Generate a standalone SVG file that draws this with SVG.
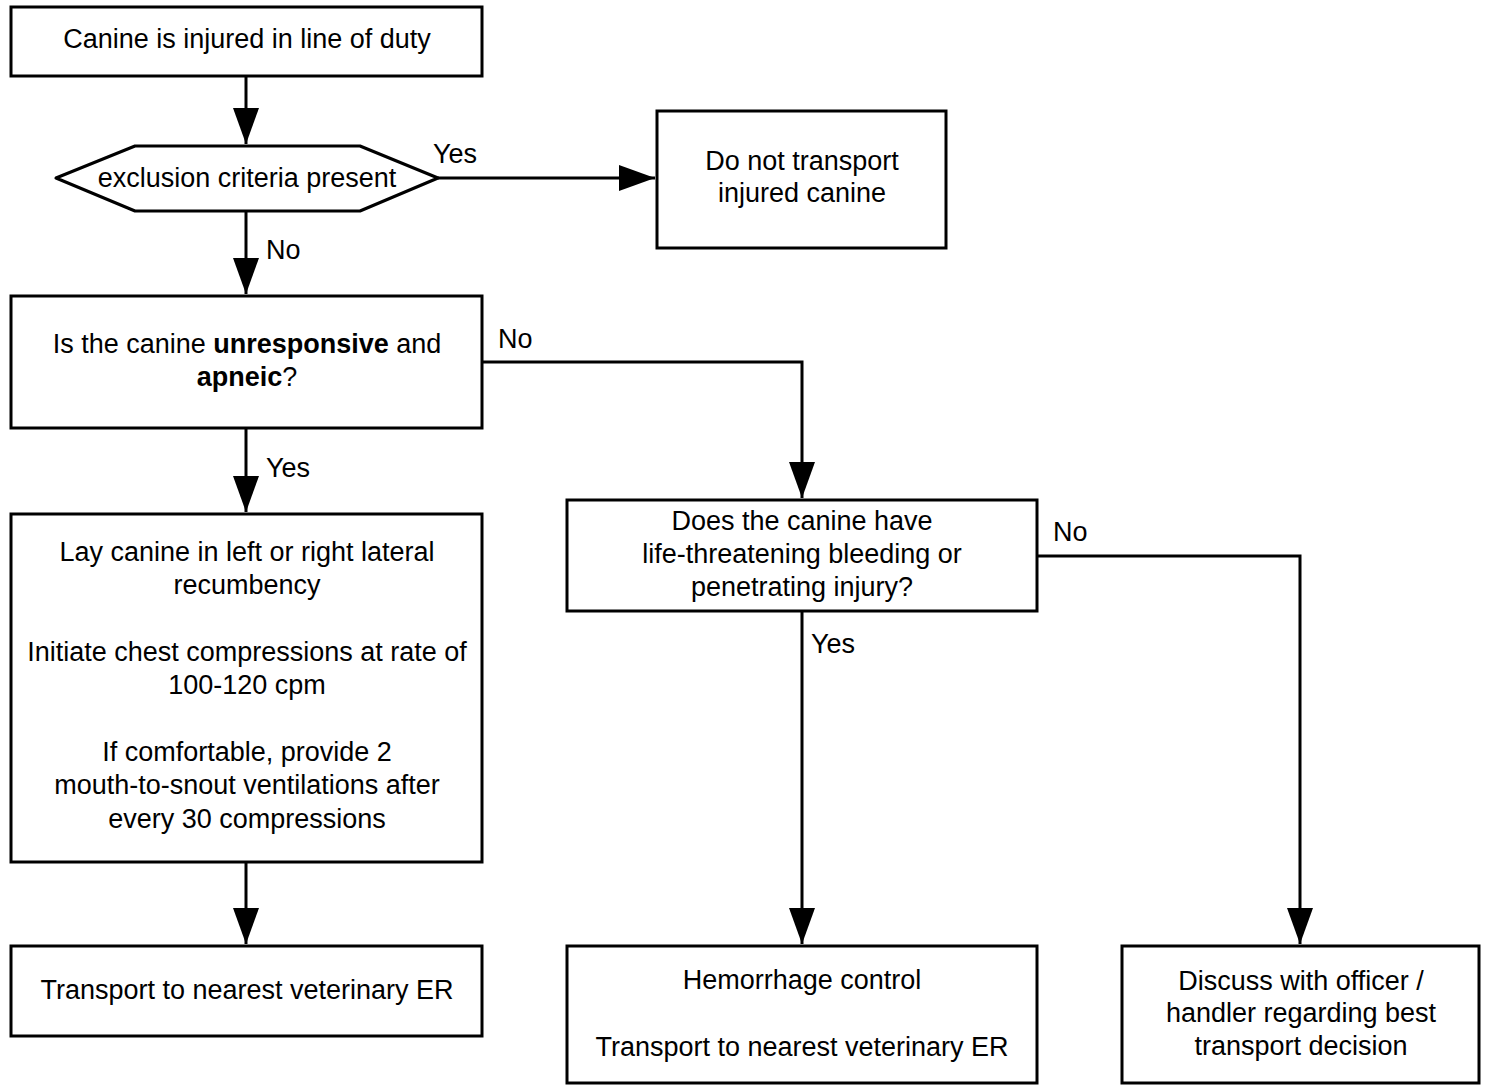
<svg xmlns="http://www.w3.org/2000/svg" width="1487" height="1085" viewBox="0 0 1487 1085">
<style>
.box{fill:#fff;stroke:#000;stroke-width:3}
.t{font-family:"Liberation Sans",Arial,sans-serif;font-size:27px;fill:#000;text-anchor:middle}
.l{font-family:"Liberation Sans",Arial,sans-serif;font-size:27px;fill:#000}
.c{fill:none;stroke:#000;stroke-width:3}
</style>
<defs>
<marker id="ah" markerUnits="userSpaceOnUse" markerWidth="36" markerHeight="26" refX="36" refY="13" orient="auto">
<path d="M0,0 L36,13 L0,26 z" fill="#000"/>
</marker>
</defs>
<rect width="1487" height="1085" fill="#fff"/>
<g id="connectors">
<path class="c" d="M246,76 V144" marker-end="url(#ah)"/>
<path class="c" d="M246,211 V294" marker-end="url(#ah)"/>
<path class="c" d="M438,178 H655" marker-end="url(#ah)"/>
<path class="c" d="M482,362 H802 V498" marker-end="url(#ah)"/>
<path class="c" d="M246,428 V512" marker-end="url(#ah)"/>
<path class="c" d="M246,862 V944" marker-end="url(#ah)"/>
<path class="c" d="M802,611 V944" marker-end="url(#ah)"/>
<path class="c" d="M1037,556 H1300 V944" marker-end="url(#ah)"/>
<text class="l" x="433" y="163">Yes</text>
<text class="l" x="266" y="259">No</text>
<text class="l" x="498" y="348">No</text>
<text class="l" x="266" y="477">Yes</text>
<text class="l" x="1053" y="541">No</text>
<text class="l" x="811" y="653">Yes</text>
</g>
<g id="n1">
<rect class="box" x="11" y="7" width="471" height="69"/>
<text class="t" x="247" y="48">Canine is injured in line of duty</text>
</g>
<g id="n2">
<path class="box" d="M56,178 L135,146 H360 L438,178 L360,211 H135 Z" stroke-linejoin="round"/>
<text class="t" x="247" y="187">exclusion criteria present</text>
</g>
<g id="n3">
<rect class="box" x="657" y="111" width="289" height="137"/>
<text class="t" x="802" y="170">Do not transport</text>
<text class="t" x="802" y="202">injured canine</text>
</g>
<g id="n4">
<rect class="box" x="11" y="296" width="471" height="132"/>
<text class="t" x="247" y="353">Is the canine <tspan font-weight="bold">unresponsive</tspan> and</text>
<text class="t" x="247" y="386"><tspan font-weight="bold">apneic</tspan>?</text>
</g>
<g id="n5">
<rect class="box" x="11" y="514" width="471" height="348"/>
<text class="t" x="247" y="561">Lay canine in left or right lateral</text>
<text class="t" x="247" y="594">recumbency</text>
<text class="t" x="247" y="661">Initiate chest compressions at rate of</text>
<text class="t" x="247" y="694">100-120 cpm</text>
<text class="t" x="247" y="761">If comfortable, provide 2</text>
<text class="t" x="247" y="794">mouth-to-snout ventilations after</text>
<text class="t" x="247" y="828">every 30 compressions</text>
</g>
<g id="n6">
<rect class="box" x="11" y="946" width="471" height="90"/>
<text class="t" x="247" y="999">Transport to nearest veterinary ER</text>
</g>
<g id="n7">
<rect class="box" x="567" y="500" width="470" height="111"/>
<text class="t" x="802" y="530">Does the canine have</text>
<text class="t" x="802" y="563">life-threatening bleeding or</text>
<text class="t" x="802" y="596">penetrating injury?</text>
</g>
<g id="n8">
<rect class="box" x="567" y="946" width="470" height="137"/>
<text class="t" x="802" y="989">Hemorrhage control</text>
<text class="t" x="802" y="1056">Transport to nearest veterinary ER</text>
</g>
<g id="n9">
<rect class="box" x="1122" y="946" width="357" height="137"/>
<text class="t" x="1301" y="990">Discuss with officer /</text>
<text class="t" x="1301" y="1022">handler regarding best</text>
<text class="t" x="1301" y="1055">transport decision</text>
</g>
</svg>
